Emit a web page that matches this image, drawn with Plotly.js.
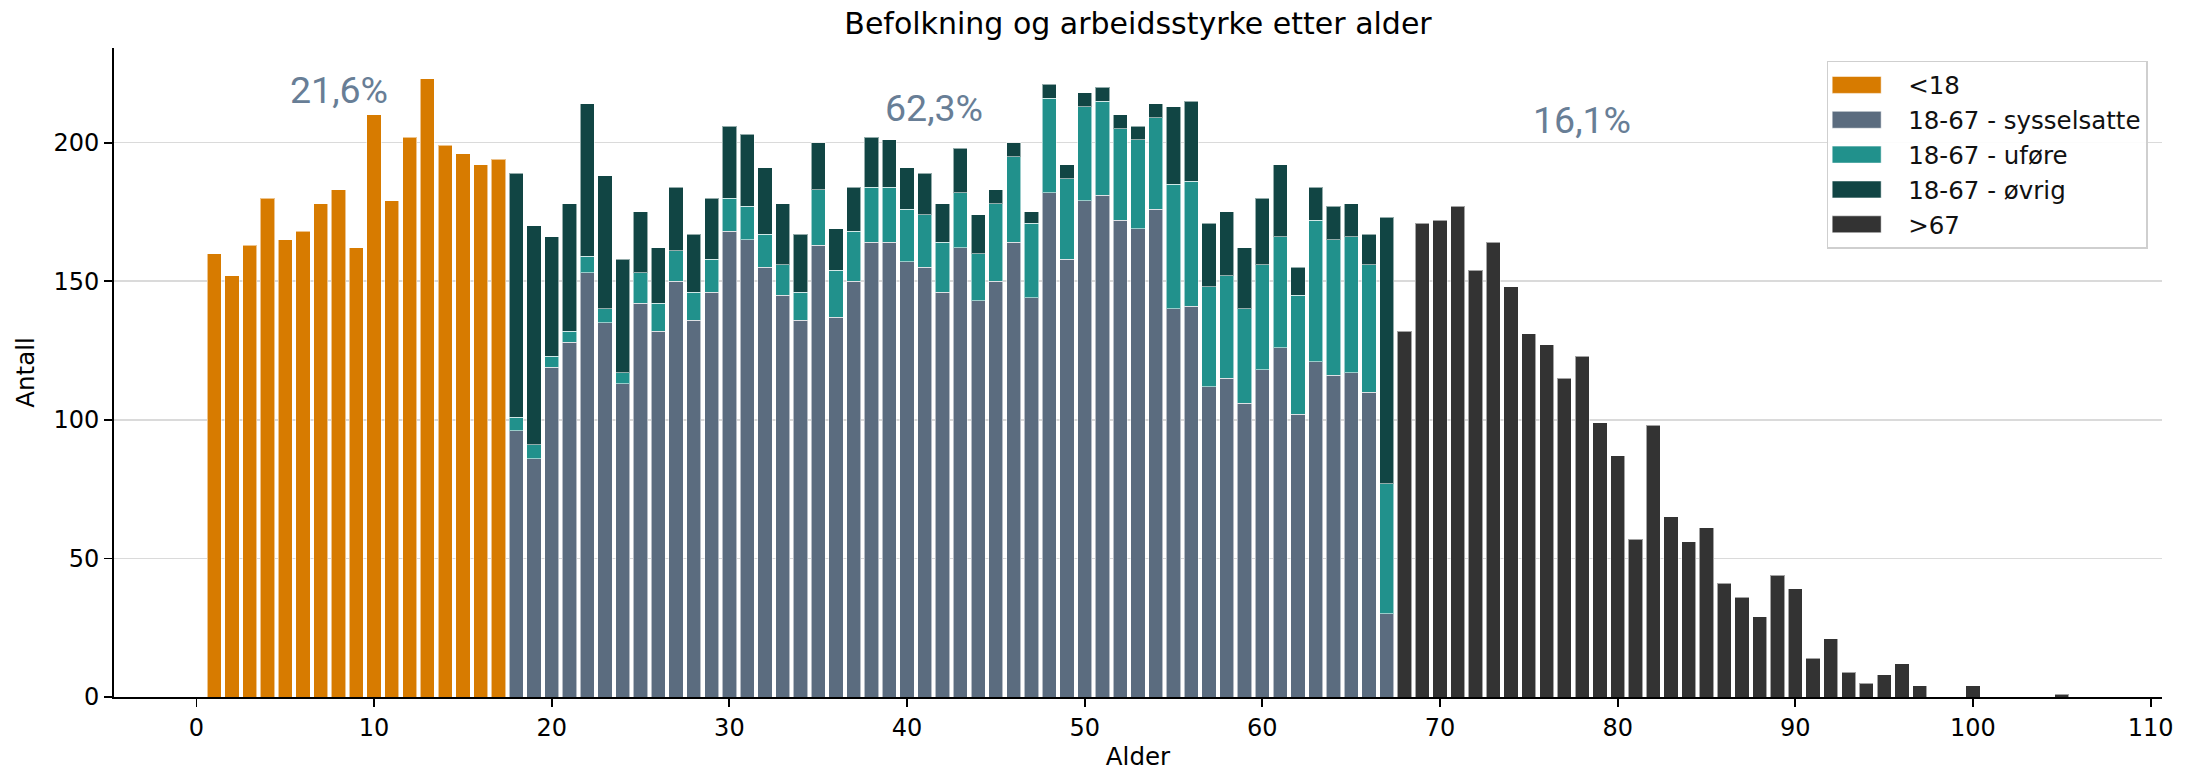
<!DOCTYPE html>
<html>
<head>
<meta charset="utf-8">
<script src="https://cdn.plot.ly/plotly-3.0.1.min.js"></script>
<style>html,body{margin:0;padding:0;background:#fff;}#chart{width:2196px;height:771px;}</style>
</head>
<body>
<div id="chart"></div>
<script>
// Ages under 18
const childAges = [1,2,3,4,5,6,7,8,9,10,11,12,13,14,15,16,17];
const childValues = [160,152,163,180,165,168,178,183,162,210,179,202,223,199,196,192,194];

// Working age 18-67
const workAges = [18,19,20,21,22,23,24,25,26,27,28,29,30,31,32,33,34,35,36,37,38,39,40,41,42,43,44,45,46,47,48,49,50,51,52,53,54,55,56,57,58,59,60,61,62,63,64,65,66,67];
const employed = [96,86,119,128,153,135,113,142,132,150,136,146,168,165,155,145,136,163,137,150,164,164,157,155,146,162,143,150,164,144,182,158,179,181,172,169,176,140,141,112,115,106,118,126,102,121,116,117,110,30];
const disabled = [5,5,4,4,6,5,4,11,10,11,10,12,12,12,12,11,10,20,17,18,20,20,19,19,18,20,17,28,31,27,34,29,34,34,33,32,33,45,45,36,37,34,38,40,43,51,49,49,46,47];
const other = [88,79,43,46,55,48,41,22,20,23,21,22,26,26,24,22,21,17,15,16,18,17,15,15,14,16,14,5,5,4,5,5,5,5,5,5,5,28,29,23,23,22,24,26,10,12,12,12,11,96];

// Over 67
const elderAges = [68,69,70,71,72,73,74,75,76,77,78,79,80,81,82,83,84,85,86,87,88,89,90,91,92,93,94,95,96,97,100,105];
const elderValues = [132,171,172,177,154,164,148,131,127,115,123,99,87,57,98,65,56,61,41,36,29,44,39,14,21,9,5,8,12,4,4,1];

const seriesNames = ['<18','18-67 - sysselsatte','18-67 - uføre','18-67 - øvrig','>67'];
const seriesColors = ['#d77b00','#5b6c7f','#21918c','#114544','#333333'];

const shareLabels = ['21,6%','62,3%','16,1%'];
const shareX = [8,41.5,78];
const shareY = [219,212.5,208];

const edge = {color:'rgba(255,255,255,0.55)', width:1};
function barTrace(x, y, i){
  return {type:'bar', x:x, y:y, name:seriesNames[i], width:0.8,
    legendgroup:'g'+i,
    marker:{color:seriesColors[i], line:edge}, hoverinfo:'x+y+name'};
}
const traces = [
  barTrace(childAges, childValues, 0),
  barTrace(workAges, employed, 1),
  barTrace(workAges, disabled, 2),
  barTrace(workAges, other, 3),
  barTrace(elderAges, elderValues, 4)
];

const font = 'DejaVu Sans, sans-serif';
const layout = {
  width:2196, height:771,
  margin:{l:114, r:34, t:48, b:74},
  paper_bgcolor:'#fff', plot_bgcolor:'#fff',
  barmode:'stack',
  font:{family:font, size:24, color:'#000'},
  title:{text:'Befolkning og arbeidsstyrke etter alder', font:{family:font, size:30, color:'#000'},
    x:0.5, xref:'paper', xanchor:'center', y:0.969, yref:'container', yanchor:'middle'},
  xaxis:{range:[-4.64,110.64], tickmode:'array', tickvals:[0,10,20,30,40,50,60,70,80,90,100,110],
    ticks:'outside', ticklen:8, tickwidth:1.8, tickcolor:'#000',
    showline:true, linecolor:'#000', linewidth:1.8, showgrid:false, zeroline:false,
    tickfont:{family:font, size:24, color:'#000'},
    title:{text:'Alder', font:{family:font, size:24.5, color:'#000'}, standoff:13}},
  yaxis:{range:[0,234.15], tickmode:'array', tickvals:[0,50,100,150,200],
    ticks:'outside', ticklen:8, tickwidth:1.8, tickcolor:'#000',
    showline:true, linecolor:'#000', linewidth:1.8, showgrid:true, gridcolor:'#dadada', gridwidth:1.5, zeroline:false,
    tickfont:{family:font, size:24, color:'#000'},
    title:{text:'Antall', font:{family:font, size:24.5, color:'#000'}, standoff:12}},
  legend:{x:0.993, xanchor:'right', y:0.98, yanchor:'top', traceorder:'normal',
    bgcolor:'rgba(255,255,255,0.9)', bordercolor:'#cfcfcf', borderwidth:1.5,
    itemwidth:70,
    font:{family:font, size:24.5, color:'#111'}, tracegroupgap:7},
  annotations: shareLabels.map((t,i)=>({x:shareX[i], y:shareY[i], xref:'x', yref:'y', text:t, showarrow:false,
    xanchor:'center', yanchor:'middle', font:{family:'Roboto, sans-serif', size:37.5, color:'#687e96'}})),
  bargap:0
};

function widenSwatches(){
  // widen legend swatches to match the reference's rectangular patches
  document.querySelectorAll('#chart .legend .legendpoints path').forEach(function(p){
    p.setAttribute('d','M13,8.5H-36V-8.5H13Z');
  });
}
Plotly.newPlot('chart', traces, layout, {displayModeBar:false, staticPlot:true}).then(function(){
  widenSwatches();
  setTimeout(widenSwatches, 50);
  setTimeout(widenSwatches, 300);
});
</script>
</body>
</html>
